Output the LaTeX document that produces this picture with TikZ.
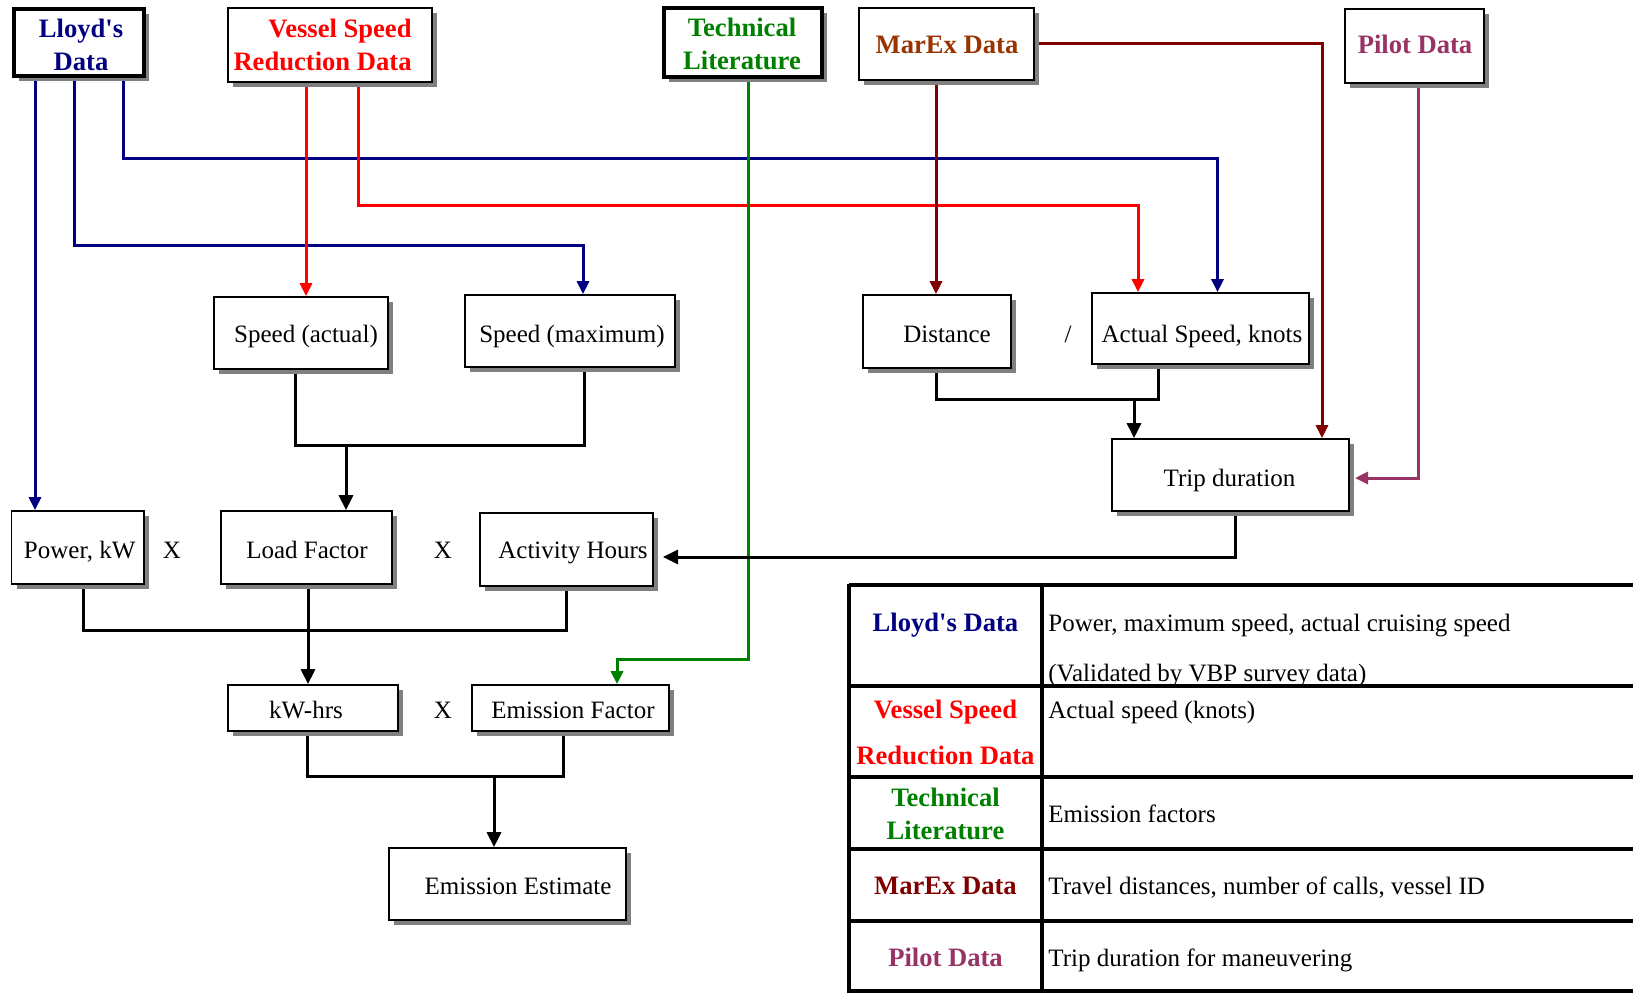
\documentclass[tikz,border=0pt]{standalone}
\usepackage{fontspec}
\setmainfont{Liberation Serif}
\usetikzlibrary{arrows.meta,fit,shadows,backgrounds}
\definecolor{lnavy}{HTML}{000080}
\definecolor{vred}{HTML}{FF0000}
\definecolor{tgreen}{HTML}{008000}
\definecolor{mred}{HTML}{800000}
\definecolor{mbrown}{HTML}{993300}
\definecolor{ppurp}{HTML}{993366}
\tikzset{
  box/.style={draw, fill=white, line width=0.85pt, inner sep=0pt,
    drop shadow={shadow xshift=2.5pt, shadow yshift=-2.5pt, fill=black!50, opacity=1}},
  thickbox/.style={box, line width=1.6pt},
  lbl/.style={anchor=base, inner sep=0pt, font=\fontsize{12.5}{15}\selectfont},
  hdr/.style={anchor=base, inner sep=0pt, font=\bfseries\fontsize{13.3}{16}\selectfont},
  conn/.style={line width=1.5pt},
  arr/.style={-{Triangle[width=6pt,length=6.5pt]}},
  barr/.style={-{Triangle[width=7pt,length=7.5pt]}},
  tbl/.style={line width=1.6pt},
}
\begin{document}
\begin{tikzpicture}[x=0.5pt,y=-0.5pt]
\useasboundingbox (0,0) rectangle (1633,992);
\clip (0,0) rectangle (1633,992);
% source boxes
\node[thickbox, fit={(14,9) (144,76)}] (lloyd) {};
\node[box, fit={(228,8) (432,82)}] (vsr) {};
\node[thickbox, fit={(664,8) (822,77)}] (tech) {};
\node[box, fit={(859,8) (1034,80)}] (marex) {};
\node[box, fit={(1345,9) (1484,83)}] (pilot) {};
% process boxes
\node[box, fit={(214,297) (388,369)}] (spa) {};
\node[box, fit={(465,295) (675,367)}] (spm) {};
\node[box, fit={(863,295) (1011,368)}] (dist) {};
\node[box, fit={(1092,293) (1309,364)}] (aspd) {};
\node[box, fit={(1112,439) (1349,511)}] (trip) {};
\node[box, fit={(11.5,511) (143.7,584)}] (pw) {};
\node[box, fit={(221,511) (392,584)}] (lf) {};
\node[box, fit={(480,513) (653,586)}] (act) {};
\node[box, fit={(228,685) (398,731)}] (kwh) {};
\node[box, fit={(472,685) (669,731)}] (ef) {};
\node[box, fit={(389,848) (626,920)}] (ee) {};
% connectors behind the boxes
\begin{scope}[on background layer]
\draw[conn, lnavy, arr] (lloyd.south -| 35,0) -- (pw.north -| 35,0);
\draw[conn, lnavy, arr] (lloyd.south -| 74,0) |- (583,245) -- (spm.north -| 583,0);
\draw[conn, lnavy, arr] (lloyd.south -| 123,0) |- (1217.5,158) -- (aspd.north -| 1217.5,0);
\draw[conn, vred, arr] (vsr.south -| 306,0) -- (spa.north -| 306,0);
\draw[conn, vred, arr] (vsr.south -| 358,0) |- (1138,205) -- (aspd.north -| 1138,0);
\draw[conn, tgreen, arr] (tech.south -| 748,0) |- (617,659) -- (ef.north -| 617,0);
\draw[conn, mred, arr] (marex.south -| 936,0) -- (dist.north -| 936,0);
\draw[conn, mred, arr] (marex.east |- 0,43) -| (trip.north -| 1322,0);
\coordinate (pend) at (1355,478);
\draw[conn, ppurp, arr] (pilot.south -| 1418,0) |- (pend);
% black connectors
\draw[conn] (spa.south -| 295,0) |- (584,445) -- (spm.south -| 584,0);
\coordinate (j1) at (346,445);
\draw[conn, barr] (j1) -- (lf.north -| j1);
\draw[conn] (dist.south -| 936,0) |- (1158,399) -- (aspd.south -| 1158,0);
\coordinate (j2) at (1134,399);
\draw[conn, barr] (j2) -- (trip.north -| j2);
\draw[conn] (pw.south -| 83,0) |- (566,630) -- (act.south -| 566,0);
\draw[conn, barr] (lf.south -| 308,0) -- (kwh.north -| 308,0);
\draw[conn] (kwh.south -| 307,0) |- (563,776) -- (ef.south -| 563,0);
\coordinate (j3) at (494,776);
\draw[conn, barr] (j3) -- (ee.north -| j3);
\coordinate (aend) at (663,557);
\draw[conn, barr] (trip.south -| 1235,0) |- (aend);
\end{scope}
% source labels
\node[hdr, text=lnavy] (tL1) at (81,37) {Lloyd\textquotesingle s};
\node[hdr, text=lnavy] (tL2) at (81,70) {Data};
\node[hdr, text=vred, anchor=base east] (tV1) at (412,37) {Vessel Speed};
\node[hdr, text=vred, anchor=base east] (tV2) at (412,70) {Reduction Data};
\node[hdr, text=tgreen] (tT1) at (742,36) {Technical};
\node[hdr, text=tgreen] (tT2) at (742,69) {Literature};
\node[hdr, text=mbrown] (tM) at (947,53) {MarEx Data};
\node[hdr, text=ppurp] (tP) at (1415,53) {Pilot Data};
% process labels
\node[lbl] (l1) at (306,342) {Speed (actual)};
\node[lbl] (l2) at (572,342) {Speed (maximum)};
\node[lbl] (l3) at (947,342) {Distance};
\node[lbl] (l4) at (1202,342) {Actual Speed, knots};
\node[lbl] (l5) at (1229.5,486) {Trip duration};
\node[lbl] (l6) at (79.7,558) {Power, kW};
\node[lbl] (l7) at (307,558) {Load Factor};
\node[lbl] (l8) at (573,558) {Activity Hours};
\node[lbl] (l9) at (306,718) {kW-hrs};
\node[lbl] (l10) at (573,718) {Emission Factor};
\node[lbl] (l11) at (518,894) {Emission Estimate};
\node[lbl] (o1) at (172,558) {X};
\node[lbl] (o2) at (443,558) {X};
\node[lbl] (o3) at (443,718) {X};
\node[lbl] (o4) at (1068,342) {/};
% table
\draw[tbl] (849,585) -- (1645,585);
\draw[tbl] (849,686) -- (1645,686);
\draw[tbl] (849,777) -- (1645,777);
\draw[tbl] (849,849) -- (1645,849);
\draw[tbl] (849,921) -- (1645,921);
\draw[tbl] (849,991) -- (1645,991);
\draw[tbl] (849,584) -- (849,1000);
\draw[tbl] (1042,584) -- (1042,1000);
\node[hdr, text=lnavy] (r1a) at (945.5,631) {Lloyd\textquotesingle s Data};
\node[lbl, anchor=base west] (r1b) at (1048,631) {Power, maximum speed, actual cruising speed};
\node[lbl, anchor=base west] (r1c) at (1048,681) {(Validated by VBP survey data)};
\node[hdr, text=vred] (r2a) at (945.5,718) {Vessel Speed};
\node[hdr, text=vred] (r2b) at (945.5,764) {Reduction Data};
\node[lbl, anchor=base west] (r2c) at (1048,718) {Actual speed (knots)};
\node[hdr, text=tgreen] (r3a) at (945.5,806) {Technical};
\node[hdr, text=tgreen] (r3b) at (945.5,839) {Literature};
\node[lbl, anchor=base west] (r3c) at (1048,822) {Emission factors};
\node[hdr, text=mred] (r4a) at (945.5,894) {MarEx Data};
\node[lbl, anchor=base west] (r4b) at (1048,894) {Travel distances, number of calls, vessel ID};
\node[hdr, text=ppurp] (r5a) at (945.5,966) {Pilot Data};
\node[lbl, anchor=base west] (r5b) at (1048,966) {Trip duration for maneuvering};
\end{tikzpicture}
\end{document}
